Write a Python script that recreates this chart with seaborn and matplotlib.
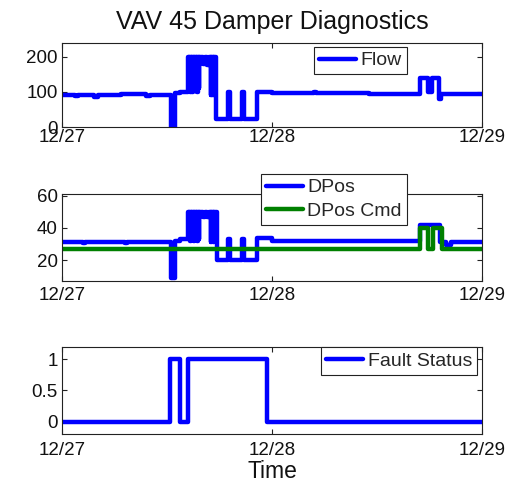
import matplotlib
matplotlib.use("Agg")
import matplotlib.pyplot as plt
import seaborn as sns
import pandas as pd

# ---------------- data (days since 12/27 00:00) ----------------
x_tick_pos = [0, 1, 2]
x_tick_labels = ["12/27", "12/28", "12/29"]

flow_t = [0.000, 0.060, 0.075, 0.150, 0.170, 0.260, 0.280, 0.400, 0.420, 0.519, 0.538, 0.560,
          0.600, 0.603, 0.606, 0.609, 0.612, 0.615, 0.618, 0.621, 0.624, 0.627,
          0.630, 0.633, 0.636, 0.639, 0.642, 0.645, 0.648, 0.651, 0.654,
          0.662, 0.670, 0.680, 0.690, 0.700,
          0.705, 0.708, 0.711, 0.714, 0.717, 0.720, 0.723, 0.726, 0.729, 0.735,
          0.790, 0.800, 0.857, 0.867, 0.929,
          1.000, 1.200, 1.210, 1.450, 1.460,
          1.707, 1.743, 1.760, 1.795, 1.805, 1.820, 2.000]
flow_v = [92, 88, 92, 87, 92, 90, 93, 89, 92, 0, 96, 100,
          200, 105, 200, 100, 200, 110, 200, 100, 200, 108,
          200, 102, 200, 115, 200, 100, 200, 110, 200,
          200, 180, 200, 178, 200,
          200, 92, 200, 90, 200, 95, 200, 92, 200, 22,
          100, 22, 100, 22, 100,
          96, 99, 96, 98, 95,
          140, 100, 140, 80, 95, 95, 95]

dpos_t = [0.000, 0.100, 0.110, 0.300, 0.310, 0.519, 0.538, 0.560,
          0.600, 0.603, 0.606, 0.609, 0.612, 0.615, 0.618, 0.621, 0.624, 0.627,
          0.630, 0.633, 0.636, 0.639, 0.642, 0.645, 0.648, 0.651, 0.654,
          0.662, 0.670, 0.680, 0.690, 0.700,
          0.705, 0.708, 0.711, 0.714, 0.717, 0.720, 0.723, 0.726, 0.729, 0.738,
          0.790, 0.800, 0.857, 0.867, 0.929,
          1.000, 1.707, 1.800, 1.830, 1.850, 2.000]
dpos_v = [31, 30.5, 31, 30.5, 31, 9, 32, 33,
          50, 33, 50, 32, 50, 34, 50, 33, 50, 32,
          50, 33, 50, 34, 50, 32, 50, 33, 50,
          50, 47, 50, 47, 50,
          50, 31, 50, 32, 50, 31, 50, 32, 50, 20,
          33, 20, 33, 20, 33.5,
          32, 42, 31, 29.5, 31, 31]

cmd_t = [0.000, 1.707, 1.743, 1.767, 1.808, 2.000]
cmd_v = [27, 40, 27, 40, 27, 27]

fault_t = [0.000, 0.514, 0.562, 0.600, 0.975, 2.000]
fault_v = [0, 1, 0, 1, 0, 0]

# ---------------- style ----------------
sns.set_theme(style="ticks")
plt.rcParams["font.family"] = ["Liberation Sans", "DejaVu Sans"]
plt.rcParams["axes.edgecolor"] = "#222222"
plt.rcParams["axes.linewidth"] = 0.8

BLUE = "#0000FF"
GREEN = "#008000"
LW = 3.2

fig = plt.figure(figsize=(5.29, 4.84), dpi=100)
ax1 = fig.add_axes([0.1172, 0.7376, 0.794, 0.1736])
ax2 = fig.add_axes([0.1172, 0.4194, 0.794, 0.1798])
ax3 = fig.add_axes([0.1172, 0.1033, 0.794, 0.1798])

def steps(ax, t, v, color, label):
    df = pd.DataFrame({"t": t, "v": v})
    sns.lineplot(data=df, x="t", y="v", ax=ax, color=color, lw=LW,
                 drawstyle="steps-post", estimator=None, sort=False,
                 label=label, legend=False)

steps(ax1, flow_t, flow_v, BLUE, "Flow")
steps(ax2, dpos_t, dpos_v, BLUE, "DPos")
steps(ax2, cmd_t, cmd_v, GREEN, "DPos Cmd")
steps(ax3, fault_t, fault_v, BLUE, "Fault Status")

ax1.set_ylim(0, 240)
ax1.set_yticks([0, 100, 200])
ax2.set_ylim(7, 61)
ax2.set_yticks([20, 40, 60])
ax3.set_ylim(-0.2, 1.2)
ax3.set_yticks([0, 0.5, 1])
ax3.set_yticklabels(["0", "0.5", "1"])

for ax, xpad in [(ax1, 1.5), (ax2, 4.0), (ax3, 5.5)]:
    ax.set_xlim(0, 2)
    ax.set_xticks(x_tick_pos)
    ax.set_xticklabels(x_tick_labels)
    ax.set_xlabel("")
    ax.set_ylabel("")
    ax.tick_params(axis="both", direction="in", top=True, right=True,
                   length=3.5, width=0.8, color="#222222",
                   labelsize=13.5, labelcolor="#111111")
    ax.tick_params(axis="y", pad=3)
    ax.tick_params(axis="x", pad=xpad)
    for s in ax.spines.values():
        s.set_visible(True)

leg_kw = dict(fontsize=14, handlelength=1.9, handletextpad=0.25, borderpad=0.25,
              labelspacing=0.3, borderaxespad=0, fancybox=False, framealpha=1,
              edgecolor="#222222", loc="upper right")
l1 = ax1.legend(bbox_to_anchor=(0.821, 0.952), **leg_kw)
l2 = ax2.legend(bbox_to_anchor=(0.821, 1.23), **leg_kw)
l3 = ax3.legend(bbox_to_anchor=(0.988, 0.995), **leg_kw)
for lg in (l1, l2, l3):
    lg.get_frame().set_linewidth(0.8)

ax1.set_title("VAV 45 Damper Diagnostics", fontsize=18, pad=10, color="#111111")
ax3.set_xlabel("Time", fontsize=16.5, labelpad=1, color="#111111")

fig.savefig("out.png", dpi=100)
